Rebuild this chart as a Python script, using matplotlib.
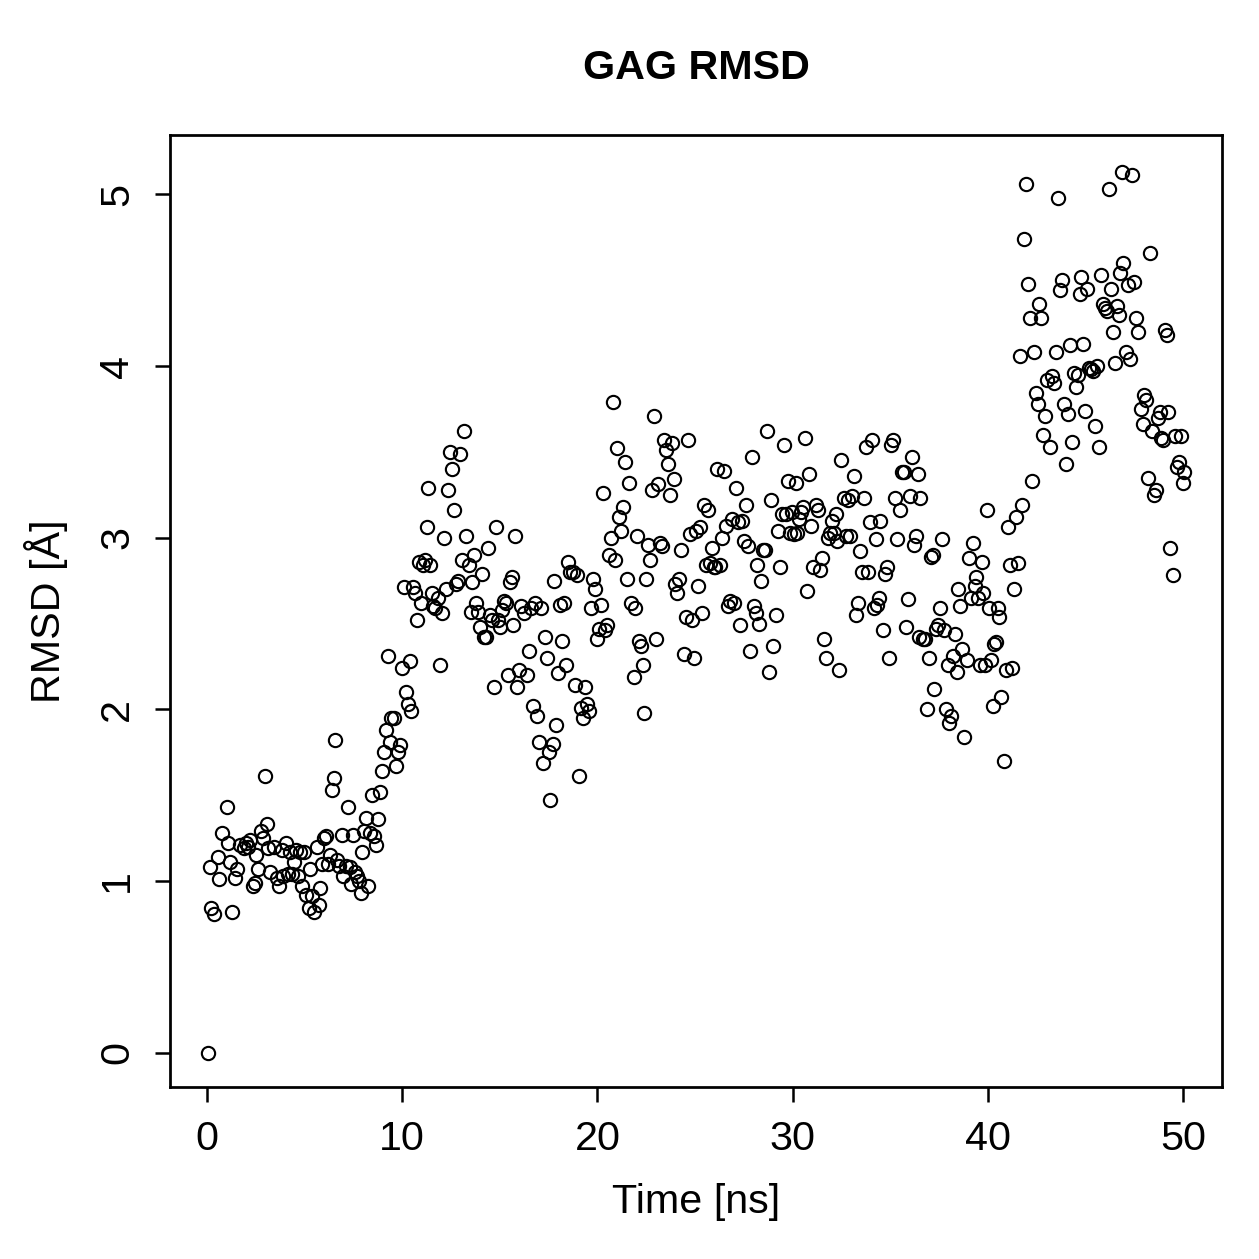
import numpy as np
import matplotlib
matplotlib.use("Agg")
import matplotlib.pyplot as plt

# ---------------------------------------------------------------------------
# values (time in ns, RMSD in Angstrom)
time_ns = [
    0.05, 0.2, 0.35, 0.15, 0.55, 0.6, 0.75, 1.0, 1.05, 1.2, 1.3, 1.45, 1.55, 1.7, 1.9, 2.0,
    2.1, 2.2, 2.35, 2.45, 2.5, 2.6, 2.75, 2.85, 2.95, 3.05, 3.1, 3.25, 3.45, 3.6, 3.7, 3.85,
    3.9, 4.05, 4.15, 4.25, 4.35, 4.45, 4.55, 4.65, 4.75, 4.85, 4.95, 5.05, 5.2, 5.3, 5.4, 5.5,
    5.65, 5.75, 5.8, 5.9, 6.0, 6.1, 6.2, 6.3, 6.4, 6.5, 6.55, 6.65, 6.75, 6.9, 6.95, 7.1,
    7.2, 7.3, 7.4, 7.5, 7.6, 7.7, 7.8, 7.9, 7.95, 8.05, 8.15, 8.25, 8.35, 8.45, 8.55, 8.65,
    8.75, 8.85, 8.95, 9.05, 9.15, 9.25, 9.35, 9.45, 9.6, 9.7, 9.8, 9.9, 10.0, 10.1, 10.2, 10.3,
    10.4, 10.45, 10.55, 10.65, 10.75, 10.85, 10.95, 11.05, 11.15, 11.25, 11.3, 11.4, 11.5, 11.6, 11.7, 11.85,
    11.95, 12.05, 12.15, 12.25, 12.35, 12.45, 12.55, 12.65, 12.75, 12.85, 12.95, 13.05, 13.15, 13.25, 13.4, 13.5,
    13.6, 13.7, 13.8, 13.9, 14.0, 14.1, 14.2, 14.3, 14.4, 14.5, 14.6, 14.7, 14.8, 14.9, 15.0, 15.1,
    15.2, 15.3, 15.4, 15.5, 15.6, 15.7, 15.8, 15.9, 16.0, 16.1, 16.25, 16.4, 16.5, 16.6, 16.7, 16.8,
    16.9, 17.0, 17.1, 17.2, 17.3, 17.4, 17.5, 17.55, 17.7, 17.8, 17.9, 18.0, 18.1, 18.2, 18.3, 18.4,
    18.5, 18.6, 18.75, 18.85, 18.95, 19.05, 19.15, 19.25, 19.35, 19.45, 19.55, 19.65, 19.75, 19.9, 20.0, 20.1,
    20.2, 20.3, 20.4, 20.5, 20.6, 20.7, 20.8, 20.9, 21.0, 21.1, 21.2, 21.3, 21.4, 21.5, 21.6, 21.7,
    21.85, 21.95, 22.05, 22.15, 22.25, 22.35, 22.4, 22.5, 22.6, 22.7, 22.8, 22.9, 23.0, 23.1, 23.2, 23.3,
    23.4, 23.5, 23.6, 23.7, 23.8, 23.9, 24.0, 24.1, 24.2, 24.3, 24.45, 24.55, 24.65, 24.75, 24.85, 24.95,
    25.05, 25.15, 25.25, 25.35, 25.45, 25.55, 25.65, 25.75, 25.85, 25.95, 26.05, 26.15, 26.3, 26.4, 26.5, 26.6,
    26.7, 26.8, 26.9, 27.0, 27.1, 27.2, 27.3, 27.4, 27.5, 27.6, 27.7, 27.8, 27.9, 28.0, 28.1, 28.2,
    28.3, 28.4, 28.5, 28.6, 28.7, 28.8, 28.9, 29.0, 29.15, 29.25, 29.35, 29.45, 29.55, 29.65, 29.75, 29.85,
    29.95, 30.05, 30.15, 30.25, 30.35, 30.45, 30.55, 30.65, 30.75, 30.85, 30.95, 31.05, 31.2, 31.3, 31.4, 31.5,
    31.6, 31.7, 31.8, 31.9, 32.0, 32.1, 32.2, 32.3, 32.4, 32.5, 32.65, 32.75, 32.85, 32.95, 33.05, 33.15,
    33.25, 33.35, 33.45, 33.55, 33.65, 33.75, 33.85, 33.95, 34.05, 34.15, 34.25, 34.35, 34.45, 34.5, 34.65, 34.75,
    34.85, 34.95, 35.05, 35.15, 35.25, 35.35, 35.5, 35.6, 35.7, 35.8, 35.9, 36.0, 36.1, 36.2, 36.3, 36.4,
    36.5, 36.55, 36.7, 36.8, 36.9, 37.0, 37.1, 37.2, 37.25, 37.35, 37.45, 37.55, 37.65, 37.75, 37.85, 37.95,
    38.0, 38.1, 38.2, 38.3, 38.4, 38.5, 38.6, 38.7, 38.8, 38.95, 39.05, 39.15, 39.25, 39.35, 39.4, 39.5,
    39.6, 39.7, 39.75, 39.85, 39.95, 40.05, 40.15, 40.25, 40.3, 40.4, 40.5, 40.6, 40.7, 40.85, 40.95, 41.05,
    41.15, 41.25, 41.35, 41.45, 41.55, 41.65, 41.75, 41.85, 41.95, 42.05, 42.15, 42.25, 42.35, 42.45, 42.55, 42.65,
    42.75, 42.85, 42.95, 43.05, 43.2, 43.3, 43.4, 43.5, 43.6, 43.7, 43.8, 43.9, 44.0, 44.1, 44.2, 44.3,
    44.4, 44.5, 44.6, 44.7, 44.8, 44.9, 45.0, 45.1, 45.2, 45.3, 45.4, 45.5, 45.6, 45.7, 45.8, 45.9,
    46.0, 46.1, 46.2, 46.3, 46.4, 46.5, 46.6, 46.7, 46.8, 46.9, 46.95, 47.1, 47.2, 47.3, 47.4, 47.5,
    47.6, 47.7, 47.85, 47.95, 48.0, 48.1, 48.2, 48.3, 48.4, 48.5, 48.6, 48.7, 48.8, 48.9, 49.0, 49.1,
    49.2, 49.25, 49.35, 49.5, 49.6, 49.7, 49.8, 49.9, 50.0, 50.05,
]

rmsd = [
    0.0, 0.84, 0.81, 1.08, 1.14, 1.01, 1.28, 1.43, 1.22, 1.11, 0.82, 1.02, 1.07, 1.21, 1.19, 1.22,
    1.2, 1.24, 0.97, 0.99, 1.15, 1.07, 1.29, 1.25, 1.61, 1.33, 1.19, 1.05, 1.2, 1.02, 0.97, 1.18,
    1.03, 1.22, 1.04, 1.17, 1.04, 1.11, 1.18, 1.03, 1.17, 0.97, 1.17, 0.92, 0.84, 1.07, 0.91, 0.82,
    1.2, 0.86, 0.96, 1.1, 1.25, 1.26, 1.1, 1.15, 1.53, 1.6, 1.82, 1.12, 1.09, 1.27, 1.03, 1.09,
    1.43, 1.08, 0.98, 1.27, 1.05, 1.03, 1.0, 0.93, 1.17, 1.29, 1.37, 0.97, 1.28, 1.5, 1.26, 1.21,
    1.36, 1.52, 1.64, 1.75, 1.88, 2.31, 1.81, 1.95, 1.95, 1.67, 1.75, 1.79, 2.24, 2.71, 2.1, 2.03,
    2.28, 1.99, 2.71, 2.68, 2.52, 2.86, 2.62, 2.84, 2.87, 3.06, 3.29, 2.84, 2.68, 2.6, 2.59, 2.65,
    2.26, 2.56, 3.0, 2.7, 3.28, 3.5, 3.4, 3.16, 2.73, 2.75, 3.49, 2.87, 3.62, 3.01, 2.84, 2.57,
    2.74, 2.9, 2.62, 2.57, 2.48, 2.79, 2.42, 2.42, 2.94, 2.55, 2.52, 2.13, 3.06, 2.52, 2.48, 2.58,
    2.63, 2.62, 2.2, 2.74, 2.77, 2.49, 3.01, 2.13, 2.23, 2.6, 2.56, 2.2, 2.34, 2.59, 2.02, 2.62,
    1.96, 1.81, 2.59, 1.69, 2.42, 2.3, 1.75, 1.47, 1.8, 2.75, 1.91, 2.21, 2.61, 2.4, 2.62, 2.26,
    2.86, 2.8, 2.8, 2.14, 2.78, 1.61, 2.01, 1.95, 2.13, 2.03, 1.99, 2.59, 2.76, 2.7, 2.41, 2.47,
    2.61, 3.26, 2.46, 2.49, 2.9, 3.0, 3.79, 2.87, 3.52, 3.12, 3.04, 3.18, 3.44, 2.76, 3.32, 2.62,
    2.19, 2.59, 3.01, 2.4, 2.37, 2.26, 1.98, 2.76, 2.96, 2.87, 3.28, 3.71, 2.41, 3.31, 2.97, 2.95,
    3.57, 3.51, 3.43, 3.25, 3.55, 3.34, 2.73, 2.68, 2.76, 2.93, 2.32, 2.54, 3.57, 3.02, 2.52, 2.3,
    3.04, 2.72, 3.06, 2.56, 3.19, 2.84, 3.16, 2.85, 2.94, 2.83, 2.83, 3.4, 2.84, 3.0, 3.39, 3.07,
    2.6, 2.63, 3.11, 2.62, 3.29, 3.09, 2.49, 3.1, 2.98, 3.19, 2.95, 2.34, 3.47, 2.6, 2.56, 2.84,
    2.5, 2.75, 2.93, 2.93, 3.62, 2.22, 3.22, 2.37, 2.55, 3.04, 2.83, 3.14, 3.54, 3.14, 3.33, 3.03,
    3.15, 3.02, 3.32, 3.03, 3.11, 3.15, 3.18, 3.58, 2.69, 3.37, 3.07, 2.83, 3.19, 3.16, 2.81, 2.88,
    2.41, 2.3, 3.0, 3.03, 3.1, 3.03, 3.14, 2.98, 2.23, 3.45, 3.23, 3.01, 3.22, 3.01, 3.24, 3.36,
    2.55, 2.62, 2.92, 2.8, 3.23, 3.53, 2.8, 3.09, 3.57, 2.59, 2.99, 2.61, 2.65, 3.1, 2.46, 2.79,
    2.83, 2.3, 3.54, 3.57, 3.23, 2.99, 3.16, 3.38, 3.38, 2.48, 2.64, 3.24, 3.47, 2.96, 3.01, 3.37,
    2.42, 3.23, 2.41, 2.41, 2.0, 2.3, 2.89, 2.9, 2.12, 2.47, 2.49, 2.59, 2.99, 2.46, 2.0, 2.26,
    1.92, 1.96, 2.31, 2.44, 2.22, 2.7, 2.6, 2.35, 1.84, 2.29, 2.88, 2.65, 2.97, 2.72, 2.77, 2.65,
    2.26, 2.86, 2.68, 2.26, 3.16, 2.59, 2.29, 2.02, 2.38, 2.39, 2.59, 2.54, 2.07, 1.7, 2.23, 3.06,
    2.84, 2.24, 2.7, 3.12, 2.85, 4.06, 3.19, 4.74, 5.06, 4.48, 4.28, 3.33, 4.08, 3.84, 3.78, 4.36,
    4.28, 3.6, 3.71, 3.92, 3.53, 3.94, 3.9, 4.08, 4.98, 4.44, 4.5, 3.78, 3.43, 3.72, 4.12, 3.56,
    3.96, 3.88, 3.95, 4.42, 4.52, 4.13, 3.74, 4.45, 3.99, 3.98, 3.97, 3.65, 4.0, 3.53, 4.53, 4.36,
    4.34, 4.32, 5.03, 4.45, 4.2, 4.02, 4.35, 4.3, 4.54, 5.13, 4.6, 4.08, 4.47, 4.04, 5.11, 4.49,
    4.28, 4.2, 3.75, 3.66, 3.83, 3.8, 3.35, 4.66, 3.62, 3.25, 3.28, 3.7, 3.73, 3.58, 3.57, 4.21,
    4.18, 3.73, 2.94, 2.78, 3.59, 3.41, 3.44, 3.59, 3.32, 3.38,
]

title = "GAG RMSD"
xlabel = "Time [ns]"
ylabel = "RMSD [Å]"
xticks = [0, 10, 20, 30, 40, 50]
yticks = [0, 1, 2, 3, 4, 5]

# ---------------------------------------------------------------------------
plt.rcParams["font.family"] = ["Liberation Sans", "DejaVu Sans"]
font_size = 16.5

fig = plt.figure(figsize=(1259 / 180, 1259 / 180), dpi=180)
ax = fig.add_axes([0.135, 0.1366, 0.8356, 0.7562])

ax.plot(
    time_ns,
    rmsd,
    linestyle="none",
    marker="o",
    markersize=5.3,
    markerfacecolor="none",
    markeredgecolor="black",
    markeredgewidth=0.85,
)

# ---------------------------------------------------------------------------
ax.set_xlim(-1.9, 52.0)
ax.set_ylim(-0.2, 5.346)
ax.set_xticks(xticks)
ax.set_yticks(yticks)
ax.set_yticklabels([str(v) for v in yticks], rotation=90, va="center")

ax.tick_params(direction="out", length=6, width=1.0, labelsize=font_size)
ax.tick_params(axis="x", pad=7)
ax.tick_params(axis="y", pad=7.5)
for spine in ax.spines.values():
    spine.set_linewidth(1.1)

ax.set_xlabel(xlabel, fontsize=font_size, labelpad=10)
ax.set_ylabel(ylabel, fontsize=font_size, labelpad=12)
fig.text(0.553, 0.946, title, ha="center", va="center", fontsize=font_size, fontweight="bold")

fig.savefig("out.png", dpi=180)
